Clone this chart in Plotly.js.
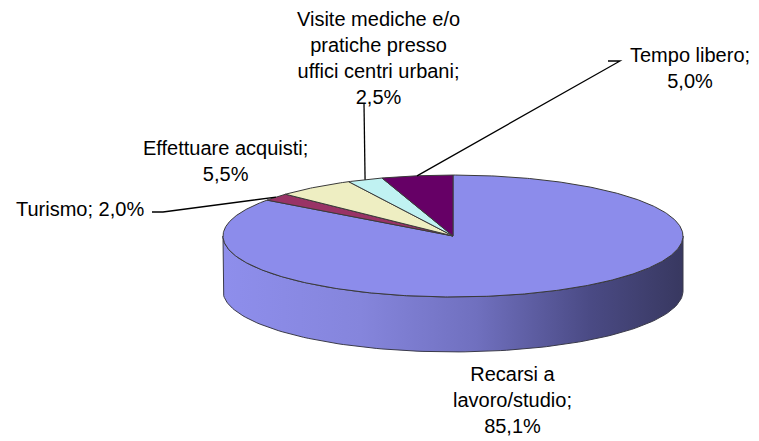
<!DOCTYPE html>
<html>
<head>
<meta charset="utf-8">
<script src="https://cdn.plot.ly/plotly-3.0.1.min.js"></script>
<style>html,body{margin:0;padding:0;background:#fff;}#chart{width:759px;height:441px;}</style>
</head>
<body>
<div id="chart"></div>
<script>
// ---- data ----
const categories = ['Recarsi a lavoro/studio', 'Turismo', 'Effettuare acquisti', 'Visite mediche e/o pratiche presso uffici centri urbani', 'Tempo libero'];
const values = [85.1, 2.0, 5.5, 2.5, 5.0];
const labelNames = ['Recarsi a<br>lavoro/studio', 'Turismo', 'Effettuare acquisti', 'Visite mediche e/o<br>pratiche presso<br>uffici centri urbani', 'Tempo libero'];

// ---- style / layout ----
const colors = ['#8c8ceb', '#993366', '#eeeec2', '#c0f2f2', '#660066'];
const W = 759, H = 441, CX = 453, CY = 236, RPX = 230;
const K = 0.265;      // ellipse flattening
const DEPTH = 0.239;  // side wall height
const labelSep = ['<br>', ' ', '<br>', '<br>', '<br>'];
const labelPos = [[512, 400], [80, 209], [225, 161], [378, 58], [690, 68]]; // label centres, px
const leaderPts = [null, [[152, 212], [163, 212]], null, [[364, 103]], [[608, 61], [620, 61]]];

const px2d = (p) => [(p[0] - CX) / RPX, (CY - p[1]) / RPX];
const rim = (th, dy) => [Math.sin(th), K * Math.cos(th) - (dy || 0)];
const total = values.reduce((a, b) => a + b, 0);
const fmt = (v) => v.toFixed(1).replace('.', ',') + '%';

const traces = [];
// side wall (front part, theta 90..270 deg)
{
  const xs = [], ys = [];
  const a0 = Math.PI / 2, a1 = 3 * Math.PI / 2, n = 120;
  for (let i = 0; i <= n; i++) { const p = rim(a0 + (a1 - a0) * i / n); xs.push(p[0]); ys.push(p[1]); }
  for (let i = n; i >= 0; i--) { const p = rim(a0 + (a1 - a0) * i / n, DEPTH); xs.push(p[0]); ys.push(p[1]); }
  xs.push(xs[0]); ys.push(ys[0]);
  traces.push({
    type: 'scatter', mode: 'lines', x: xs, y: ys, fill: 'toself',
    fillgradient: {type: 'horizontal', colorscale: [[0, '#8e8eec'], [0.3, '#8585dc'], [0.55, '#7070bf'], [0.8, '#4a4a84'], [1, '#383860']]},
    line: {color: '#3a3a4a', width: 1}, hoverinfo: 'skip', showlegend: false
  });
}
// top slices
const mids = [];
let cum = 0;
values.forEach((v, i) => {
  const t0 = 2 * Math.PI * cum / total;
  cum += v;
  const t1 = 2 * Math.PI * cum / total;
  mids.push((t0 + t1) / 2);
  const xs = [0], ys = [0];
  const n = Math.max(4, Math.ceil((t1 - t0) / 0.01));
  for (let j = 0; j <= n; j++) { const p = rim(t0 + (t1 - t0) * j / n); xs.push(p[0]); ys.push(p[1]); }
  xs.push(0); ys.push(0);
  traces.push({
    type: 'scatter', mode: 'lines', x: xs, y: ys, fill: 'toself',
    fillcolor: colors[i], line: {color: '#3a3a3a', width: 1},
    name: categories[i], hoverinfo: 'name', showlegend: false
  });
});

const annotations = categories.map((c, i) => {
  const p = px2d(labelPos[i]);
  return {
    x: p[0], y: p[1], xref: 'x', yref: 'y', showarrow: false,
    text: labelNames[i] + ';' + labelSep[i] + fmt(values[i]),
    font: {family: 'Arial, "Liberation Sans", sans-serif', size: 20, color: '#000'},
    align: 'center', xanchor: 'center', yanchor: 'middle'
  };
});

const shapes = [];
leaderPts.forEach((pts, i) => {
  if (!pts) return;
  const head = rim(mids[i]);
  const all = pts.map(px2d).concat([head]);
  const path = all.map((p, j) => (j ? 'L' : 'M') + p[0].toFixed(4) + ',' + p[1].toFixed(4)).join(' ');
  shapes.push({type: 'path', xref: 'x', yref: 'y', path: path, line: {color: '#000', width: 1.3}});
});

const layout = {
  width: W, height: H,
  margin: {l: 0, r: 0, t: 0, b: 0},
  paper_bgcolor: '#fff', plot_bgcolor: '#fff',
  xaxis: {range: [(0 - CX) / RPX, (W - CX) / RPX], visible: false, fixedrange: true},
  yaxis: {range: [(CY - H) / RPX, CY / RPX], visible: false, fixedrange: true},
  showlegend: false,
  annotations: annotations,
  shapes: shapes
};
Plotly.newPlot('chart', traces, layout, {staticPlot: true, displayModeBar: false});
</script>
</body>
</html>
